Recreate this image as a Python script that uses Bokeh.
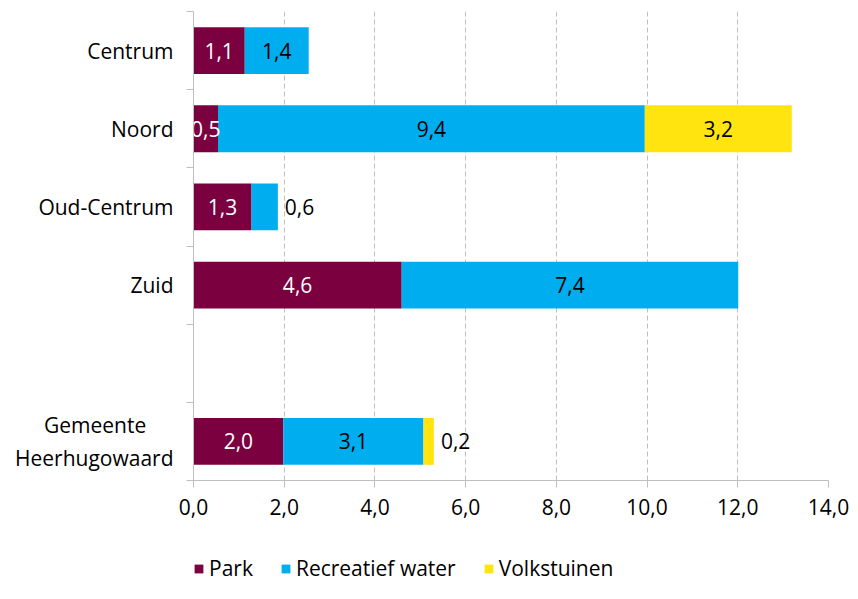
from bokeh.plotting import figure
from bokeh.models import ColumnDataSource, FixedTicker, Range1d, Legend
from bokeh.layouts import column
from bokeh.core.properties import value
from bokeh.embed import file_html
from bokeh.resources import INLINE

# ---- data ----
categories = ["Centrum", "Noord", "Oud-Centrum", "Zuid", "",
              "Gemeente\u00a0\u00a0\u00a0\u00a0\u00a0\nHeerhugowaard"]
series_names = ["Park", "Recreatief water", "Volkstuinen"]
park = [1.13, 0.54, 1.28, 4.59, 0.0, 1.98]
water = [1.41, 9.41, 0.58, 7.42, 0.0, 3.09]
volkstuinen = [0.0, 3.24, 0.0, 0.0, 0.0, 0.23]
x_ticks = [0, 2, 4, 6, 8, 10, 12, 14]
x_tick_labels = ["0,0", "2,0", "4,0", "6,0", "8,0", "10,0", "12,0", "14,0"]

colors = ["#7B003F", "#00AEEF", "#FFE40F"]
label_colors = ["white", "black", "black"]
FONT = "Open Sans"
FS = "21px"
GRAY = "#BFBFBF"

n = len(categories)
ypos = [i + 0.5 for i in range(n)]
series = [park, water, volkstuinen]

src = ColumnDataSource(data=dict(y=ypos, Park=park, **{"Recreatief water": water}, Volkstuinen=volkstuinen))

p = figure(width=850, height=552, output_backend="svg", toolbar_location=None,
           x_range=Range1d(0, 14), y_range=Range1d(n, 0),
           min_border_left=193, min_border_right=22, min_border_top=11, min_border_bottom=72)
p.outline_line_color = None
p.background_fill_color = "white"

rs = p.hbar_stack(series_names, y="y", height=0.6, source=src, color=colors, line_color=None)

# labels
in_x, in_y, in_t, in_c = [], [], [], []
out_x, out_y, out_t = [], [], []
for i in range(n):
    left = 0.0
    vals = [s[i] for s in series]
    last = max([k for k, v in enumerate(vals) if v > 0], default=-1)
    for k, v in enumerate(vals):
        if v > 0:
            txt = f"{v:.1f}".replace(".", ",")
            if k == last and v < 1 and k > 0:
                out_x.append(left + v); out_y.append(ypos[i]); out_t.append(txt)
            else:
                in_x.append(left + v / 2); in_y.append(ypos[i]); in_t.append(txt); in_c.append(label_colors[k])
        left += v

p.text(x=in_x, y=in_y, text=in_t, text_color=in_c, text_align="center", text_baseline="middle",
       text_font=value(FONT), text_font_size=FS)
p.text(x=out_x, y=out_y, text=out_t, text_color="black", text_align="left", text_baseline="middle",
       text_font=value(FONT), text_font_size=FS, x_offset=7)

# x axis
p.xaxis.ticker = FixedTicker(ticks=x_ticks)
p.xaxis.major_label_overrides = {t: l for t, l in zip(x_ticks, x_tick_labels)}
p.xaxis.major_tick_in = 0
p.xaxis.major_tick_out = 7
p.xaxis.minor_tick_line_color = None
p.xaxis.axis_line_color = GRAY
p.xaxis.major_tick_line_color = GRAY
p.xaxis.major_label_text_font = FONT
p.xaxis.major_label_text_font_size = FS
p.xaxis.major_label_text_color = "black"
p.xaxis.major_label_standoff = 11

# y axis
p.yaxis.ticker = FixedTicker(ticks=ypos, minor_ticks=list(range(n + 1)))
p.yaxis.major_label_overrides = {y: c for y, c in zip(ypos, categories)}
p.yaxis.major_tick_in = 0
p.yaxis.major_tick_out = 0
p.yaxis.minor_tick_in = 0
p.yaxis.minor_tick_out = 7
p.yaxis.minor_tick_line_color = GRAY
p.yaxis.axis_line_color = GRAY
p.yaxis.major_label_text_font = FONT
p.yaxis.major_label_text_font_size = FS
p.yaxis.major_label_text_color = "black"
p.yaxis.major_label_standoff = 13

# grid
p.ygrid.grid_line_color = None
p.xgrid.grid_line_color = GRAY
p.xgrid.grid_line_dash = "5 3"
p.xgrid.grid_line_width = 1

# legend strip (separate small figure under the chart)
lf = figure(width=850, height=31, output_backend="svg", toolbar_location=None,
            x_range=Range1d(0, 1), y_range=Range1d(0, 1), min_border=0)
lf.axis.visible = False
lf.grid.grid_line_color = None
lf.outline_line_color = None
lrs = [lf.hbar(y=[0], left=[0], right=[0], height=0, color=c, line_color=None) for c in colors]
legend = Legend(items=[(name, [r]) for name, r in zip(series_names, lrs)],
                orientation="horizontal", location=(0, 1),
                glyph_width=11, glyph_height=11, label_standoff=5, spacing=27,
                padding=0, margin=0, border_line_color=None, background_fill_alpha=0,
                label_text_font=FONT, label_text_font_size=FS, label_text_color="black")
lf.add_layout(legend, "center")

layout = column(p, lf, spacing=0)
open("out.html", "w").write(file_html(layout, INLINE))
